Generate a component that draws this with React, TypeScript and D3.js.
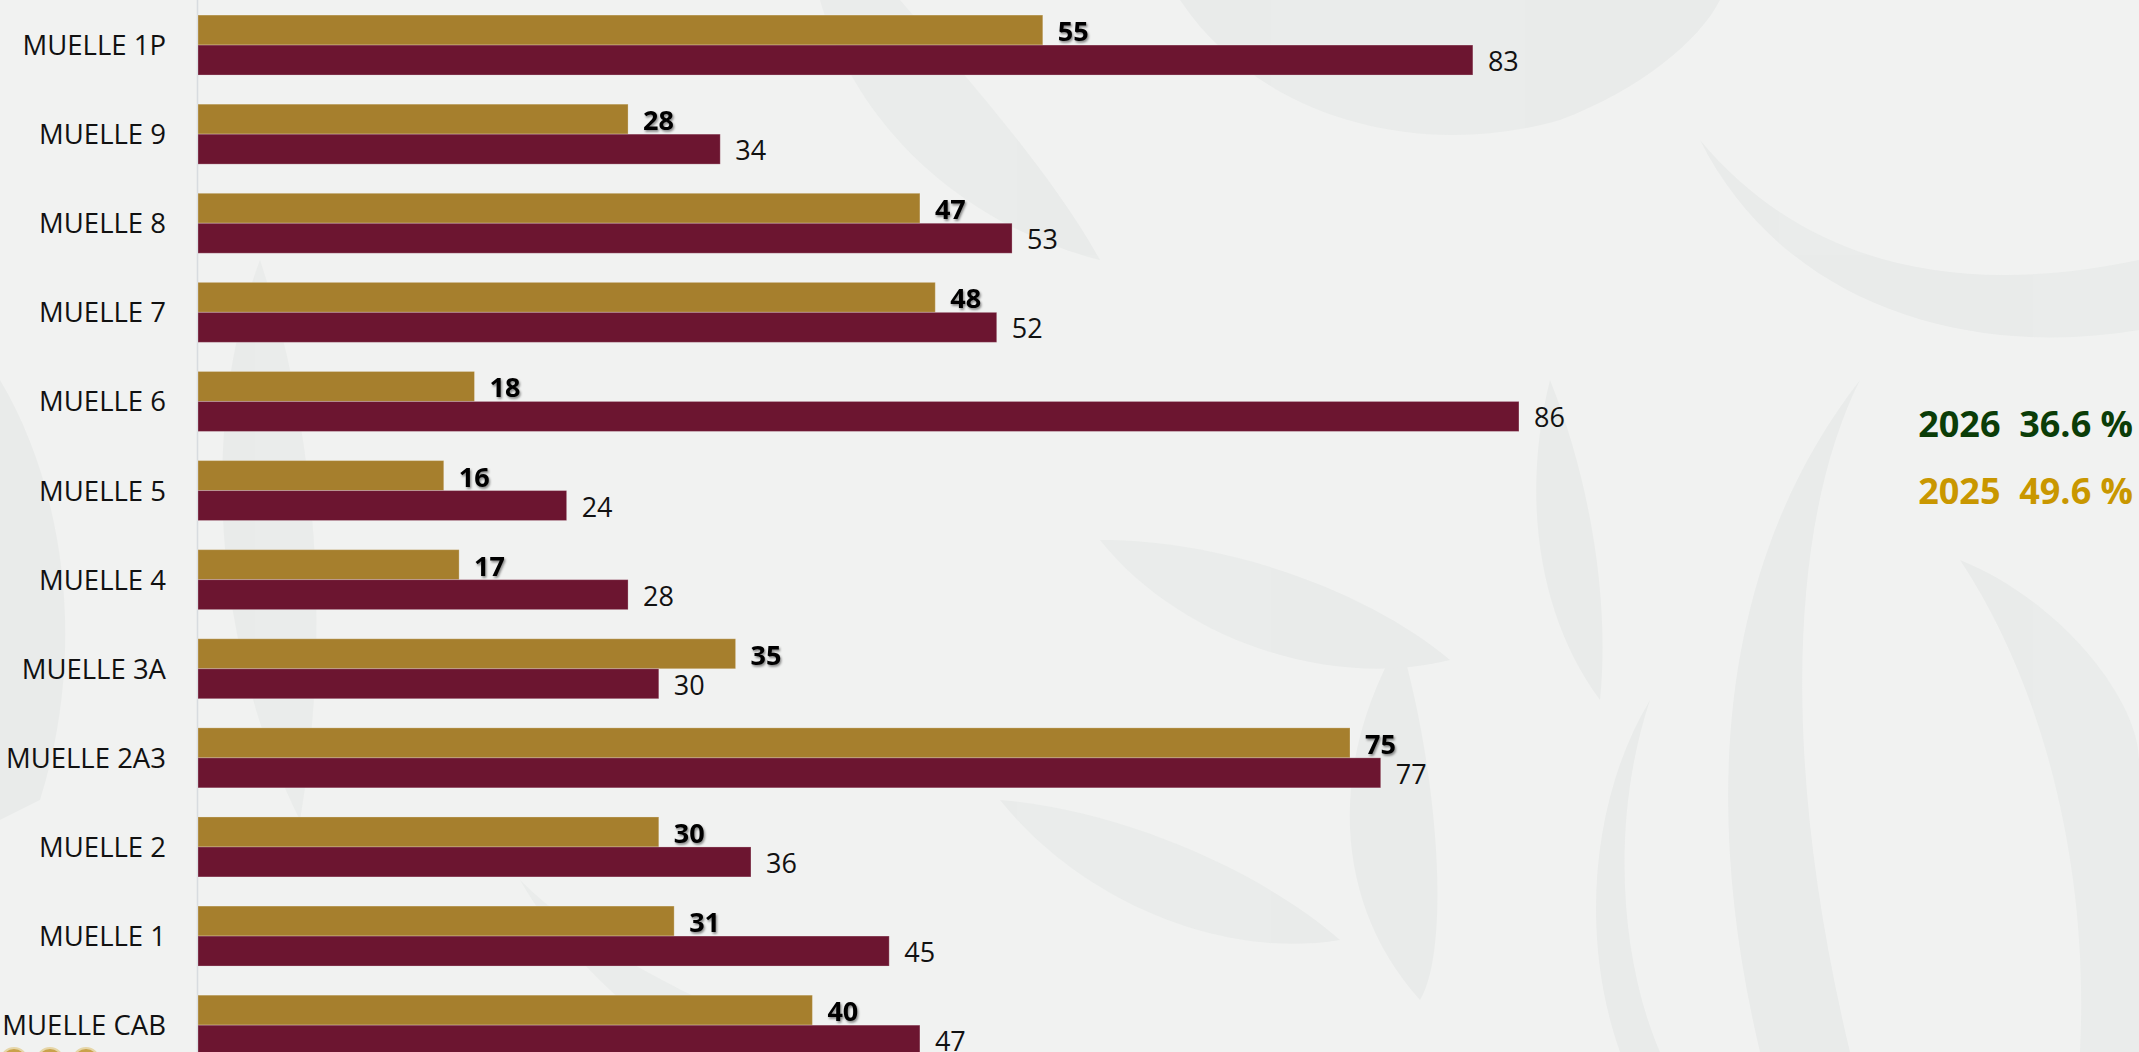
import React, { useEffect } from "react";
import * as d3 from "d3";

const categories = [
  "MUELLE 1P", "MUELLE 9", "MUELLE 8", "MUELLE 7", "MUELLE 6", "MUELLE 5",
  "MUELLE 4", "MUELLE 3A", "MUELLE 2A3", "MUELLE 2", "MUELLE 1", "MUELLE CAB",
];
const values2025 = [55, 28, 47, 48, 18, 16, 17, 35, 75, 30, 31, 40];
const values2026 = [83, 34, 53, 52, 86, 24, 28, 30, 77, 36, 45, 47];
const seriesKeys = ["2025", "2026"];
const legendYears = ["2026", "2025"];
const legendPcts = ["36.6 %", "49.6 %"];

const W = 2139;
const H = 1052;
const GOLD = "#A67F2D";
const MAROON = "#6C1530";
const FONT = "'Open Sans', 'DejaVu Sans', sans-serif";

const decoPaths = [
  "M1180,0 C1260,120 1420,160 1560,120 C1640,90 1700,40 1720,0 Z",
  "M1700,140 C1800,260 1950,300 2139,260 L2139,330 C1960,360 1780,300 1700,140 Z",
  "M1860,380 C1790,520 1780,760 1850,1052 L1760,1052 C1700,800 1720,560 1860,380 Z",
  "M1650,700 C1610,820 1620,960 1660,1052 L1620,1052 C1580,940 1590,800 1650,700 Z",
  "M1960,560 C2060,600 2139,700 2139,760 L2139,1052 L2080,1052 C2090,860 2040,680 1960,560 Z",
  "M1400,640 C1330,760 1330,900 1420,1000 C1450,950 1440,780 1400,640 Z",
  "M1100,540 C1180,640 1330,690 1450,660 C1380,600 1240,540 1100,540 Z",
  "M820,0 C860,140 980,230 1100,260 C1050,170 960,70 900,0 Z",
  "M260,260 C200,420 210,640 300,820 C330,640 320,440 260,260 Z",
  "M1000,800 C1080,900 1220,960 1340,940 C1260,870 1120,810 1000,800 Z",
  "M520,880 C600,960 720,1010 820,1052 L680,1052 C620,1000 560,950 520,880 Z",
  "M0,380 C60,480 90,640 40,800 L0,820 Z",
  "M1550,380 C1520,500 1540,620 1600,700 C1610,600 1590,480 1550,380 Z",
];

export default function App() {
  useEffect(() => {
    document.body.style.margin = "0";
  }, []);

  const x = d3.scaleLinear().domain([0, 100]).range([198, 198 + 1536]);
  const step = 89.1;
  const y = d3
    .scaleBand<string>()
    .domain(categories)
    .range([0.5, 0.5 + categories.length * step])
    .paddingInner(0.327)
    .paddingOuter(0.1635);
  const inner = d3
    .scaleBand<string>()
    .domain(seriesKeys)
    .range([0, y.bandwidth()]);

  const rows = categories.map((c, i) => ({
    cat: c,
    bars: [
      { key: "2025", value: values2025[i], color: GOLD, bold: true },
      { key: "2026", value: values2026[i], color: MAROON, bold: false },
    ],
  }));

  return (
    <svg
      width={W}
      height={H}
      style={{ position: "fixed", left: 0, top: 0, display: "block" }}
      fontFamily={FONT}
    >
      <defs>
        <filter id="shadow" x="-20%" y="-20%" width="150%" height="160%">
          <feDropShadow dx="1.2" dy="1.8" stdDeviation="1.1" floodColor="#000" floodOpacity="0.45" />
        </filter>
      </defs>
      <rect x={0} y={0} width={W} height={H} fill="#F1F2F1" />
      <g fill="#E7E9E8" opacity={0.75}>
        {decoPaths.map((d, i) => (
          <path key={i} d={d} />
        ))}
      </g>
      <line x1={197.5} x2={197.5} y1={0} y2={H} stroke="#D8DCE0" strokeWidth={1.5} />
      {rows.map((r) => {
        const y0 = y(r.cat) as number;
        const center = y0 + y.bandwidth() / 2;
        return (
          <g key={r.cat}>
            <text
              x={166}
              y={center + 10}
              textAnchor="end"
              fontSize={27.5}
              fill="#111"
            >
              {r.cat}
            </text>
            {r.bars.map((b) => {
              const by = y0 + (inner(b.key) as number);
              const bh = inner.bandwidth();
              const xe = x(b.value);
              return (
                <g key={b.key}>
                  <rect
                    x={x(0)}
                    y={by}
                    width={xe - x(0)}
                    height={bh}
                    fill={b.color}
                    stroke="rgba(255,255,255,0.25)"
                    strokeWidth={1}
                  />
                  <text
                    x={xe + 15}
                    y={by + bh / 2 + 11}
                    fontSize={27}
                    fontWeight={b.bold ? 700 : 400}
                    fill={b.bold ? "#000" : "#111"}
                    filter={b.bold ? "url(#shadow)" : undefined}
                  >
                    {b.value}
                  </text>
                </g>
              );
            })}
          </g>
        );
      })}
      {legendYears.map((yr, i) => (
        <text
          key={yr}
          x={2133}
          y={437 + i * 67}
          textAnchor="end"
          fontSize={36}
          fontWeight={700}
          fill={i === 0 ? "#0B3D08" : "#C99700"}
          style={{ whiteSpace: "pre" }}
        >
          {`${yr}  ${legendPcts[i]}`}
        </text>
      ))}
      <g fill="#C9A24A" stroke="#E6D6A8" strokeWidth={2}>
        {[14, 50, 86].map((cx) => (
          <circle key={cx} cx={cx} cy={1061} r={13} />
        ))}
      </g>
    </svg>
  );
}
